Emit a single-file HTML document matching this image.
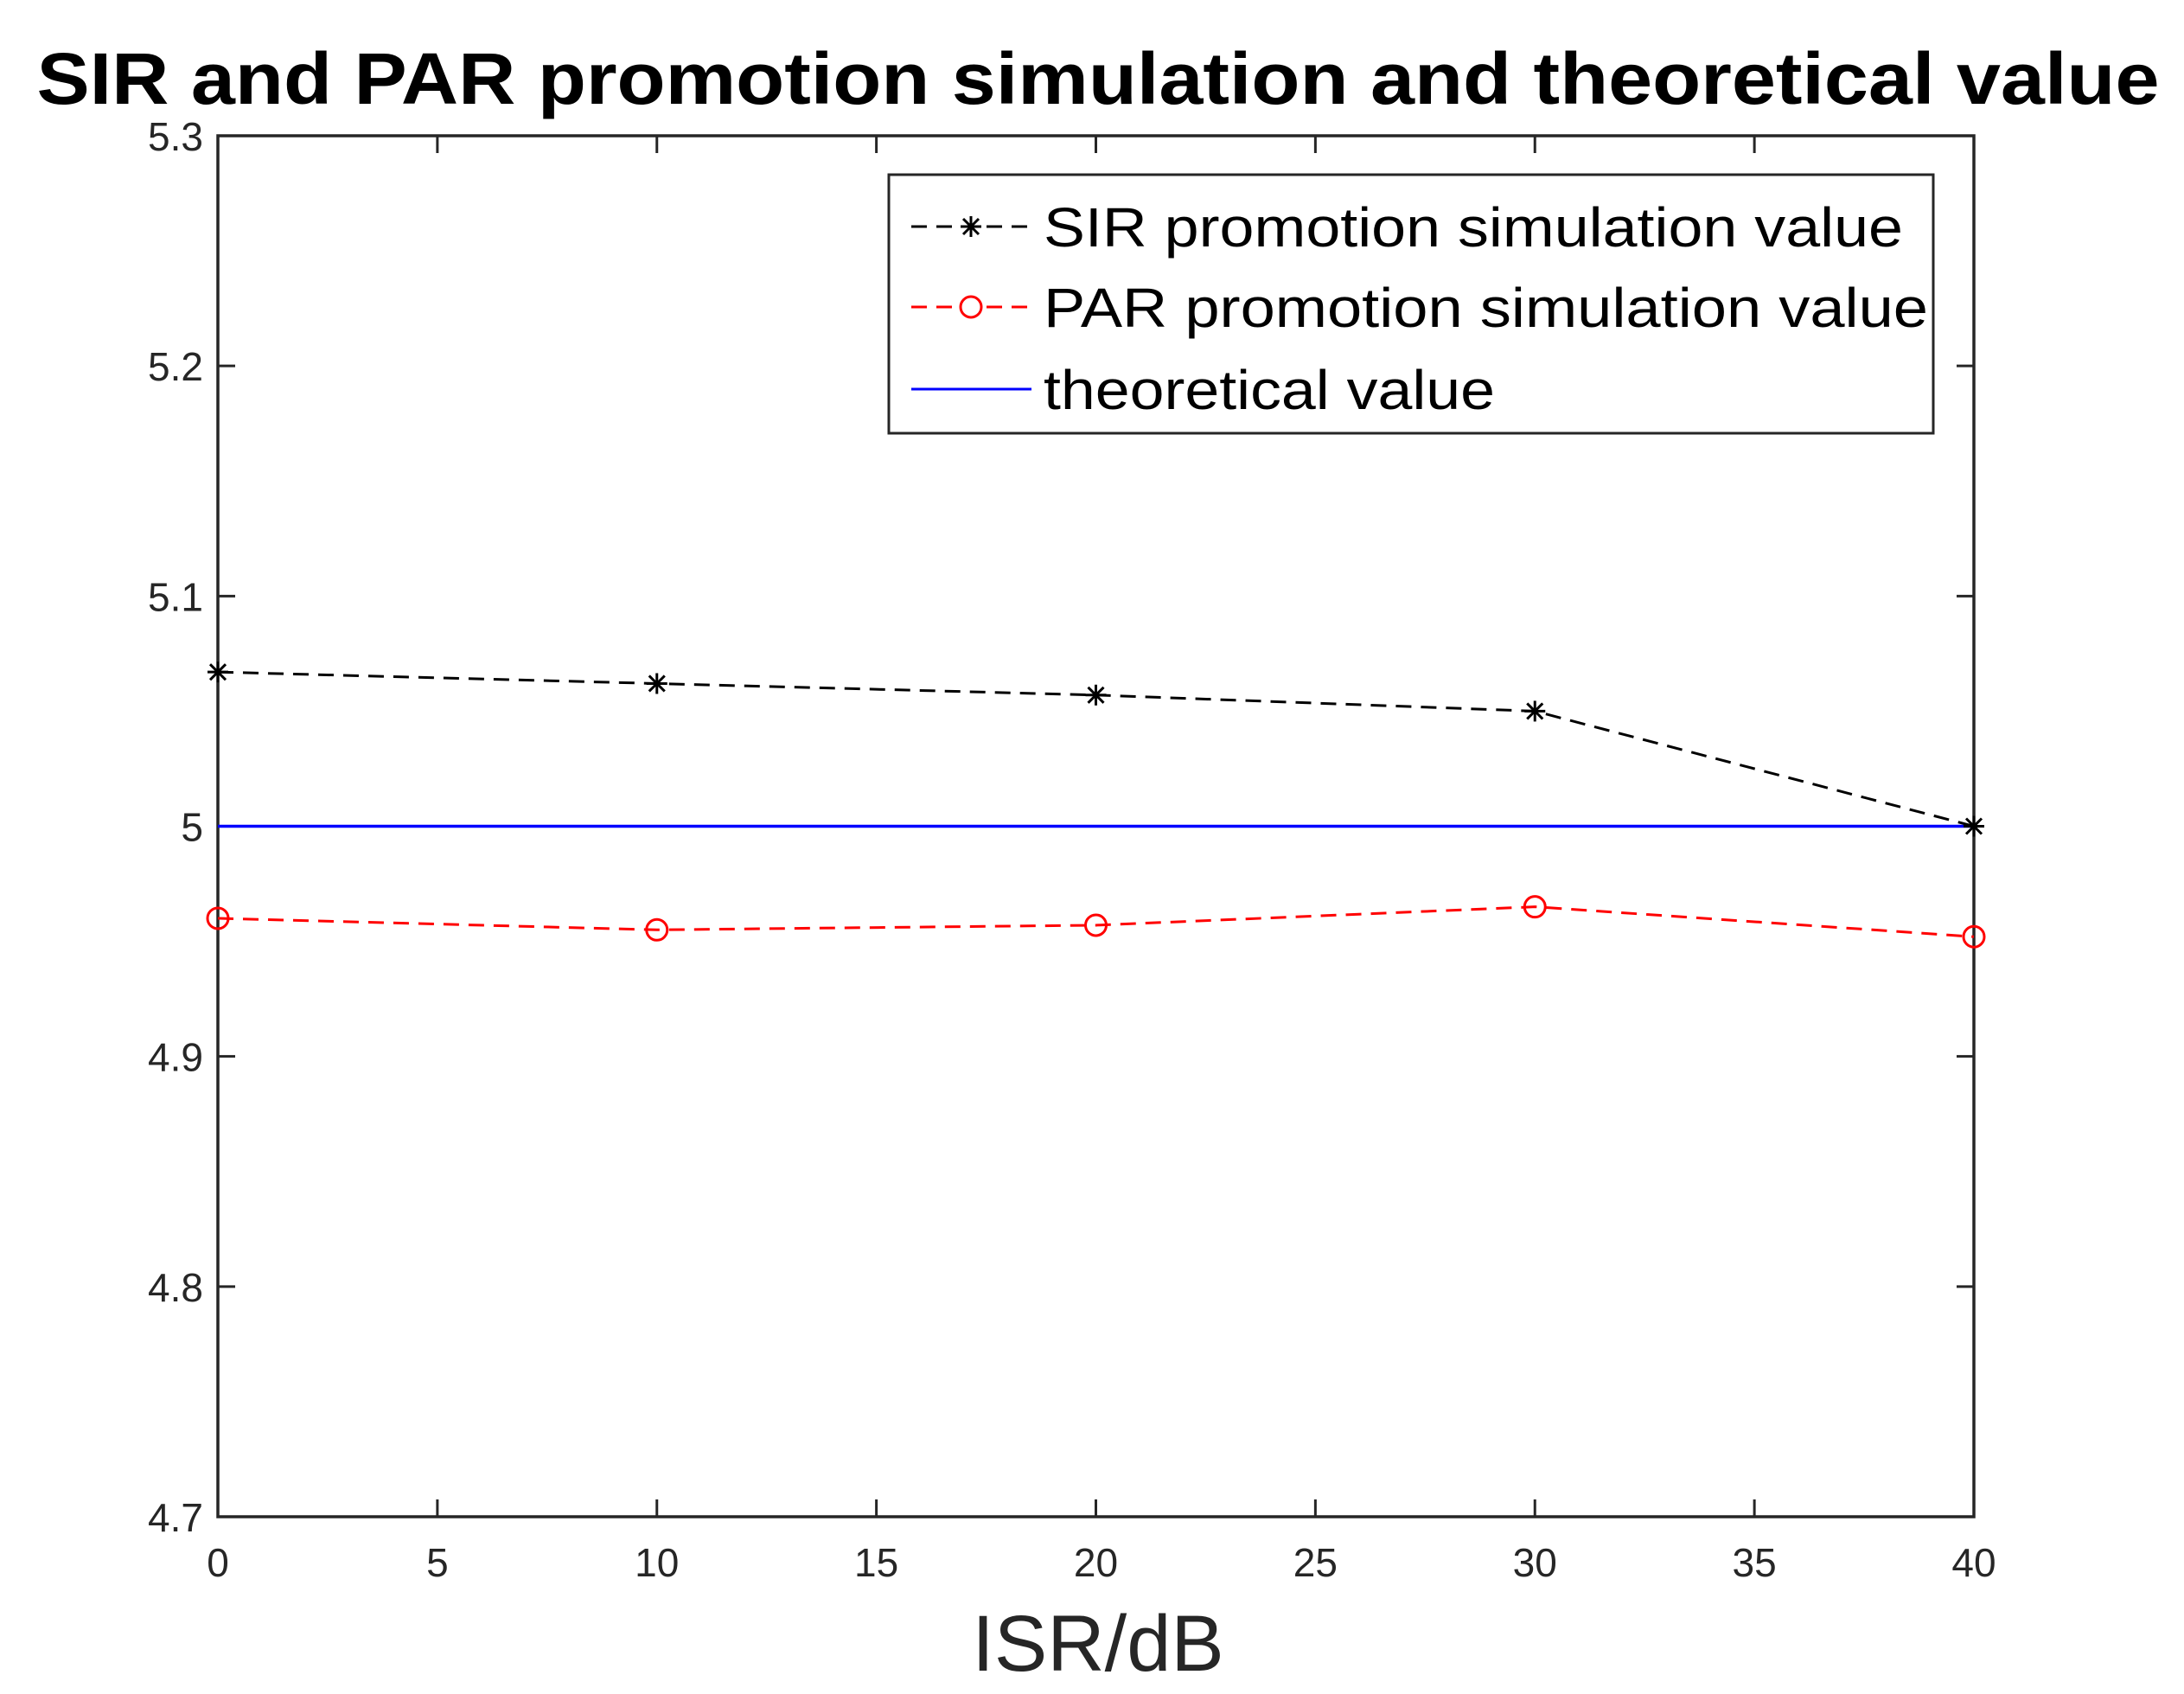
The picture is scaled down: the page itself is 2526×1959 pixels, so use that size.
<!DOCTYPE html>
<html><head><meta charset="utf-8"><style>html,body{margin:0;padding:0;background:#fff}svg{display:block}</style></head>
<body>
<svg id="chart" width="2526" height="1959" viewBox="0 0 2526 1959" xmlns="http://www.w3.org/2000/svg" font-family="Liberation Sans, Arial, sans-serif">
<rect width="2526" height="1959" fill="#fff"/>
<text x="1270" y="120" text-anchor="middle" font-size="84" font-weight="bold" textLength="2455" lengthAdjust="spacingAndGlyphs">SIR and PAR promotion simulation and theoretical value</text>
<g id="axes"></g>
<g id="series"></g>
<g>
<rect x="1028" y="202" width="1208" height="299" fill="#fff" stroke="#262626" stroke-width="3"/>
<g>
<line x1="1054" y1="262" x2="1193" y2="262" stroke="#000" stroke-width="3" stroke-dasharray="18,11"/>
<g stroke="#000" stroke-width="3">
<line x1="1111" y1="262" x2="1135" y2="262"/><line x1="1123" y1="250" x2="1123" y2="274"/>
<line x1="1114" y1="253" x2="1132" y2="271"/><line x1="1114" y1="271" x2="1132" y2="253"/>
</g>
<text x="1207" y="285" font-size="64" textLength="994" lengthAdjust="spacingAndGlyphs">SIR promotion simulation value</text>
</g>
<g>
<line x1="1054" y1="355" x2="1193" y2="355" stroke="#f00" stroke-width="3" stroke-dasharray="18,11"/>
<circle cx="1123" cy="355" r="12" fill="#fff" stroke="#f00" stroke-width="3"/>
<text x="1207" y="378" font-size="64" textLength="1023" lengthAdjust="spacingAndGlyphs">PAR promotion simulation value</text>
</g>
<g>
<line x1="1054" y1="450" x2="1193" y2="450" stroke="#00f" stroke-width="3"/>
<text x="1207" y="473" font-size="64" textLength="522" lengthAdjust="spacingAndGlyphs">theoretical value</text>
</g>
</g>
<text x="1270" y="1932" text-anchor="middle" font-size="92" fill="#262626">ISR/dB</text>
<script>
const xCats=[0,10,20,30,40];
const sirValues=[5.067,5.062,5.057,5.050,5.000];
const parValues=[4.960,4.955,4.957,4.965,4.952];
const theoryValues=[5,5,5,5,5];
const xTicks=[0,5,10,15,20,25,30,35,40];
const yTicks=[4.7,4.8,4.9,5,5.1,5.2,5.3];
const yTickLabels=["4.7","4.8","4.9","5","5.1","5.2","5.3"];
const L=252,R=2283,T=157,B=1754;
const xMin=0,xMax=40,yMin=4.7,yMax=5.3;
function sx(v){return L+(v-xMin)/(xMax-xMin)*(R-L);}
function sy(v){return B-(v-yMin)/(yMax-yMin)*(B-T);}
const NS="http://www.w3.org/2000/svg";
function mk(tag,attrs,parent){const e=document.createElementNS(NS,tag);for(const k in attrs)e.setAttribute(k,attrs[k]);parent.appendChild(e);return e;}
const ax=document.getElementById('axes');
const box=mk('rect',{x:L,y:T,width:R-L,height:B-T,fill:'none',stroke:'#262626','stroke-width':3.5},ax);


xTicks.forEach(v=>{
  const x=sx(v);
  mk('line',{x1:x,y1:B,x2:x,y2:B-20,stroke:'#262626','stroke-width':3},ax);
  mk('line',{x1:x,y1:T,x2:x,y2:T+20,stroke:'#262626','stroke-width':3},ax);
  const t=mk('text',{x:x,y:1823,'text-anchor':'middle','font-size':46,fill:'#262626'},ax);
  t.textContent=String(v);
  
  
});
yTicks.forEach((v,i)=>{
  const y=sy(v);
  mk('line',{x1:L,y1:y,x2:L+20,y2:y,stroke:'#262626','stroke-width':3},ax);
  mk('line',{x1:R,y1:y,x2:R-20,y2:y,stroke:'#262626','stroke-width':3},ax);
  const t=mk('text',{x:235,y:y+17,'text-anchor':'end','font-size':46,fill:'#262626'},ax);
  t.textContent=yTickLabels[i];
  
  
});
const sg=document.getElementById('series');
function pts(vals){return xCats.map((c,i)=>sx(c)+','+sy(vals[i])).join(' ');}
const th=mk('polyline',{points:pts(theoryValues),fill:'none',stroke:'#00f','stroke-width':3.5},sg);


const sl=mk('polyline',{points:pts(sirValues),fill:'none',stroke:'#000','stroke-width':3,'stroke-dasharray':'18,11'},sg);


const pl=mk('polyline',{points:pts(parValues),fill:'none',stroke:'#f00','stroke-width':3,'stroke-dasharray':'18,11'},sg);


xCats.forEach((c,i)=>{
  const x=sx(c),y=sy(sirValues[i]),r=12;
  const g=mk('g',{stroke:'#000','stroke-width':3},sg);
  
  
  mk('line',{x1:x-r,y1:y,x2:x+r,y2:y},g);
  mk('line',{x1:x,y1:y-r,x2:x,y2:y+r},g);
  mk('line',{x1:x-9,y1:y-9,x2:x+9,y2:y+9},g);
  mk('line',{x1:x-9,y1:y+9,x2:x+9,y2:y-9},g);
  const cc=mk('circle',{cx:x,cy:sy(parValues[i]),r:12,fill:'none',stroke:'#f00','stroke-width':3},sg);
  
  
});
</script>
</svg>
</body></html>
